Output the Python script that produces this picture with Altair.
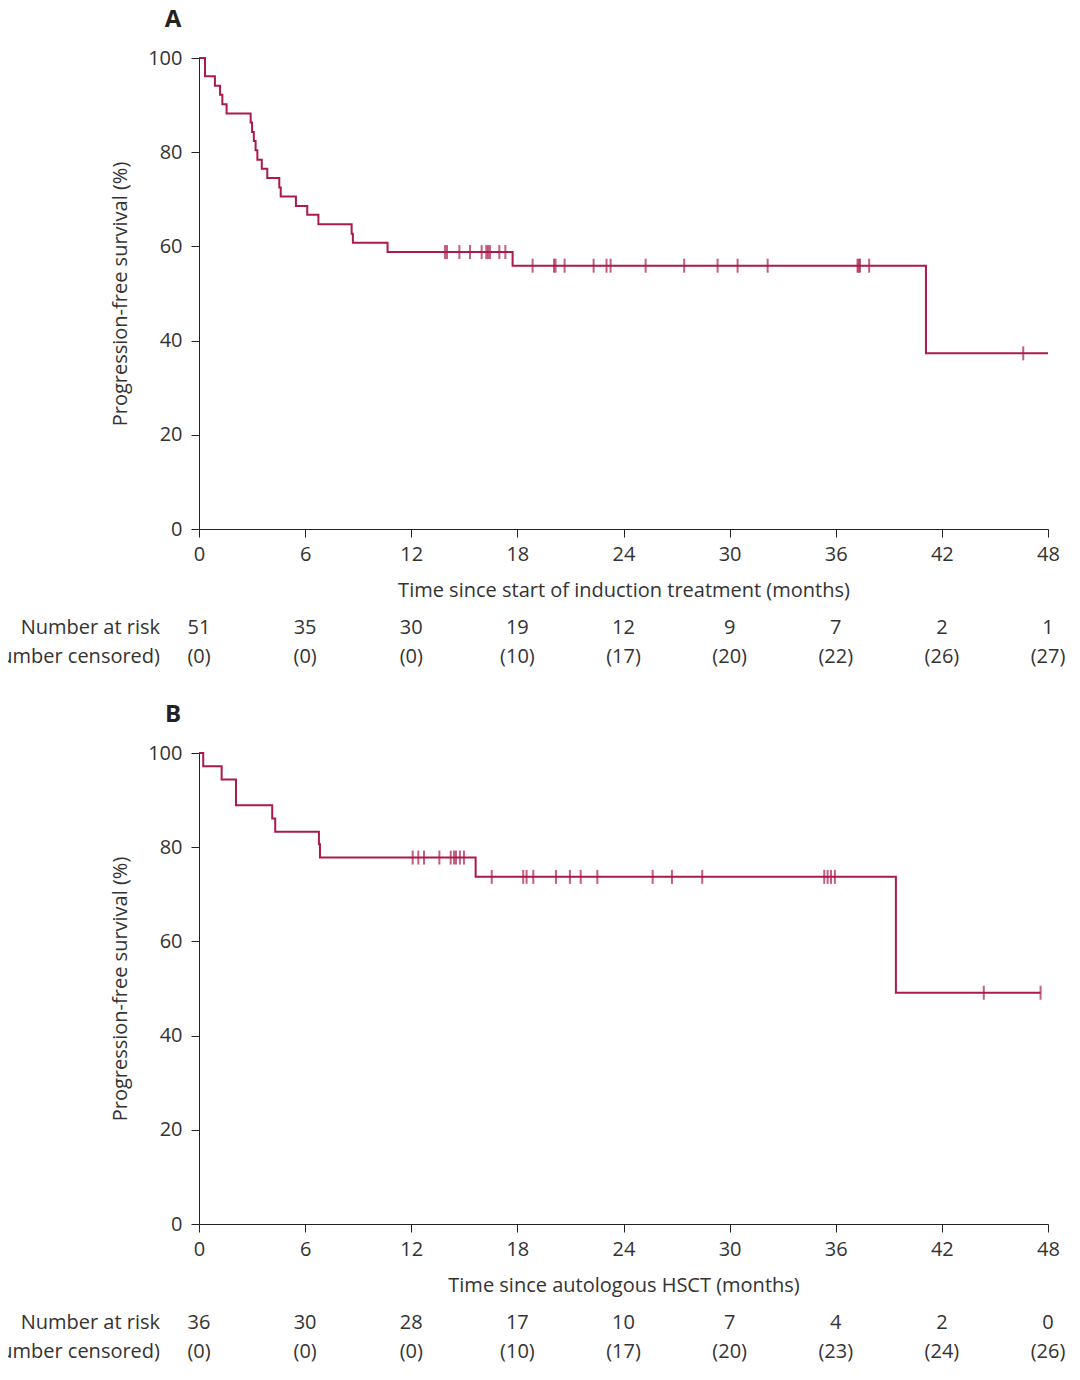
import altair as alt
import pandas as pd

# ---------------- data ----------------
a_event_t = [0, 0.34, 0.90, 1.19, 1.32, 1.56, 2.92, 3.00, 3.10, 3.20, 3.30, 3.55, 3.86,
             4.54, 4.62, 5.48, 6.12, 6.75, 8.63, 8.70, 10.66, 17.73, 41.10, 48.0]
a_event_s = [100, 96.1, 94.1, 92.2, 90.2, 88.2, 86.3, 84.3, 82.4, 80.4, 78.4, 76.5, 74.5,
             72.5, 70.6, 68.6, 66.7, 64.7, 62.7, 60.8, 58.8, 55.9, 37.3, 37.3]
a_censor_t = [13.91, 14.02, 14.72, 15.32, 15.98, 16.24, 16.34, 16.45, 16.98, 17.32,
              18.86, 20.07, 20.16, 20.67, 22.31, 23.04, 23.27, 25.25, 27.43, 29.32,
              30.45, 32.15, 37.23, 37.30, 37.37, 37.89, 46.6]

b_event_t = [0, 0.24, 1.28, 2.09, 4.14, 4.31, 6.78, 6.84, 15.64, 39.4, 47.58]
b_event_s = [100, 97.2, 94.4, 88.9, 86.1, 83.3, 80.6, 77.8, 73.7, 49.1, 49.1]
b_censor_t = [12.08, 12.40, 12.72, 13.59, 14.23, 14.42, 14.53, 14.75, 14.98, 16.55,
              18.33, 18.52, 18.90, 20.18, 20.97, 21.58, 22.52, 25.65, 26.74, 28.45,
              35.35, 35.54, 35.73, 35.95, 44.37, 47.58]

risk_t = [0, 6, 12, 18, 24, 30, 36, 42, 48]
a_at_risk = [51, 35, 30, 19, 12, 9, 7, 2, 1]
a_censored = [0, 0, 0, 10, 17, 20, 22, 26, 27]
b_at_risk = [36, 30, 28, 17, 10, 7, 4, 2, 0]
b_censored = [0, 0, 0, 10, 17, 20, 23, 24, 26]

a_xtitle = "Time since start of induction treatment (months)"
b_xtitle = "Time since autologous HSCT (months)"
ytitle = "Progression-free survival (%)"
row_labels = ["Number at risk", "(Number censored)"]

# ---------------- style ----------------
COLOR = "#ab1a4b"
TEXT = "#333333"
FONT = "Open Sans"
W, H = 849, 471
FS = 20


def step_value(times, surv, t):
    v = surv[0]
    for tt, ss in zip(times, surv):
        if tt <= t:
            v = ss
    return v


def panel(letter, ev_t, ev_s, cen_t, at_risk, cens, xtitle):
    curve = pd.DataFrame({"t": ev_t, "s": ev_s})
    cen = pd.DataFrame({"t": cen_t, "s": [step_value(ev_t, ev_s, c) for c in cen_t]})
    risk = pd.DataFrame({"t": risk_t, "n": [str(v) for v in at_risk],
                         "c": [f"({v})" for v in cens]})

    xs = alt.Scale(domain=[0, 48], nice=False, zero=False)
    x_axis = alt.Axis(values=risk_t, title=xtitle, grid=False, tickSize=8,
                      labelPadding=7, titlePadding=16, domainColor="#222",
                      tickColor="#222", labelFontSize=FS, titleFontSize=FS,
                      labelColor=TEXT, titleColor=TEXT, titleFont=FONT,
                      labelFont=FONT, titleFontWeight="normal", labelFlush=False)
    x_enc = alt.X("t:Q", scale=xs, axis=x_axis)

    line = alt.Chart(curve).mark_line(interpolate="step-after", color=COLOR,
                                      strokeWidth=2, clip=False).encode(
        x=x_enc,
        y=alt.Y("s:Q", scale=alt.Scale(domain=[0, 100], nice=False),
                axis=alt.Axis(values=[0, 20, 40, 60, 80, 100], title=ytitle,
                              grid=False, tickSize=8, labelPadding=9,
                              titlePadding=17, domainColor="#222", tickColor="#222",
                              labelFontSize=FS, titleFontSize=FS, labelColor=TEXT,
                              titleColor=TEXT, titleFont=FONT, labelFont=FONT,
                              titleFontWeight="normal")),
    )
    ticks = alt.Chart(cen).mark_tick(orient="vertical", color=COLOR, size=14,
                                     thickness=2).encode(x=x_enc, y="s:Q")
    n_txt = alt.Chart(risk).mark_text(fontSize=FS, font=FONT, color=TEXT).encode(
        x=x_enc, y=alt.value(570), text="n:N")
    c_txt = alt.Chart(risk).mark_text(fontSize=FS, font=FONT, color=TEXT).encode(
        x=x_enc, y=alt.value(599), text="c:N")
    lab_df = pd.DataFrame({"lab": row_labels})
    lab1 = alt.Chart(lab_df.iloc[[0]]).mark_text(fontSize=FS, font=FONT, color=TEXT,
                                                  align="right").encode(
        x=alt.value(-39), y=alt.value(570), text="lab:N")
    lab2 = alt.Chart(lab_df.iloc[[1]]).mark_text(fontSize=FS, font=FONT, color=TEXT,
                                                  align="right").encode(
        x=alt.value(-39), y=alt.value(599), text="lab:N")
    let = alt.Chart(pd.DataFrame({"L": [letter]})).mark_text(
        fontSize=24, font=FONT, fontWeight="bold", color="#222").encode(
        x=alt.value(-26), y=alt.value(-38), text="L:N")
    return alt.layer(line, ticks, n_txt, c_txt, lab1, lab2, let).properties(
        width=W, height=H)


pa = panel("A", a_event_t, a_event_s, a_censor_t, a_at_risk, a_censored, a_xtitle)
pb = panel("B", b_event_t, b_event_s, b_censor_t, b_at_risk, b_censored, b_xtitle)

chart = alt.vconcat(pa, pb, spacing=36).properties(
    padding={"left": -29, "top": 0, "right": 0, "bottom": 4}
).configure(font=FONT).configure_view(strokeWidth=0, stroke="transparent")

chart.save("out.html", embed_options={"renderer": "svg", "actions": False})
